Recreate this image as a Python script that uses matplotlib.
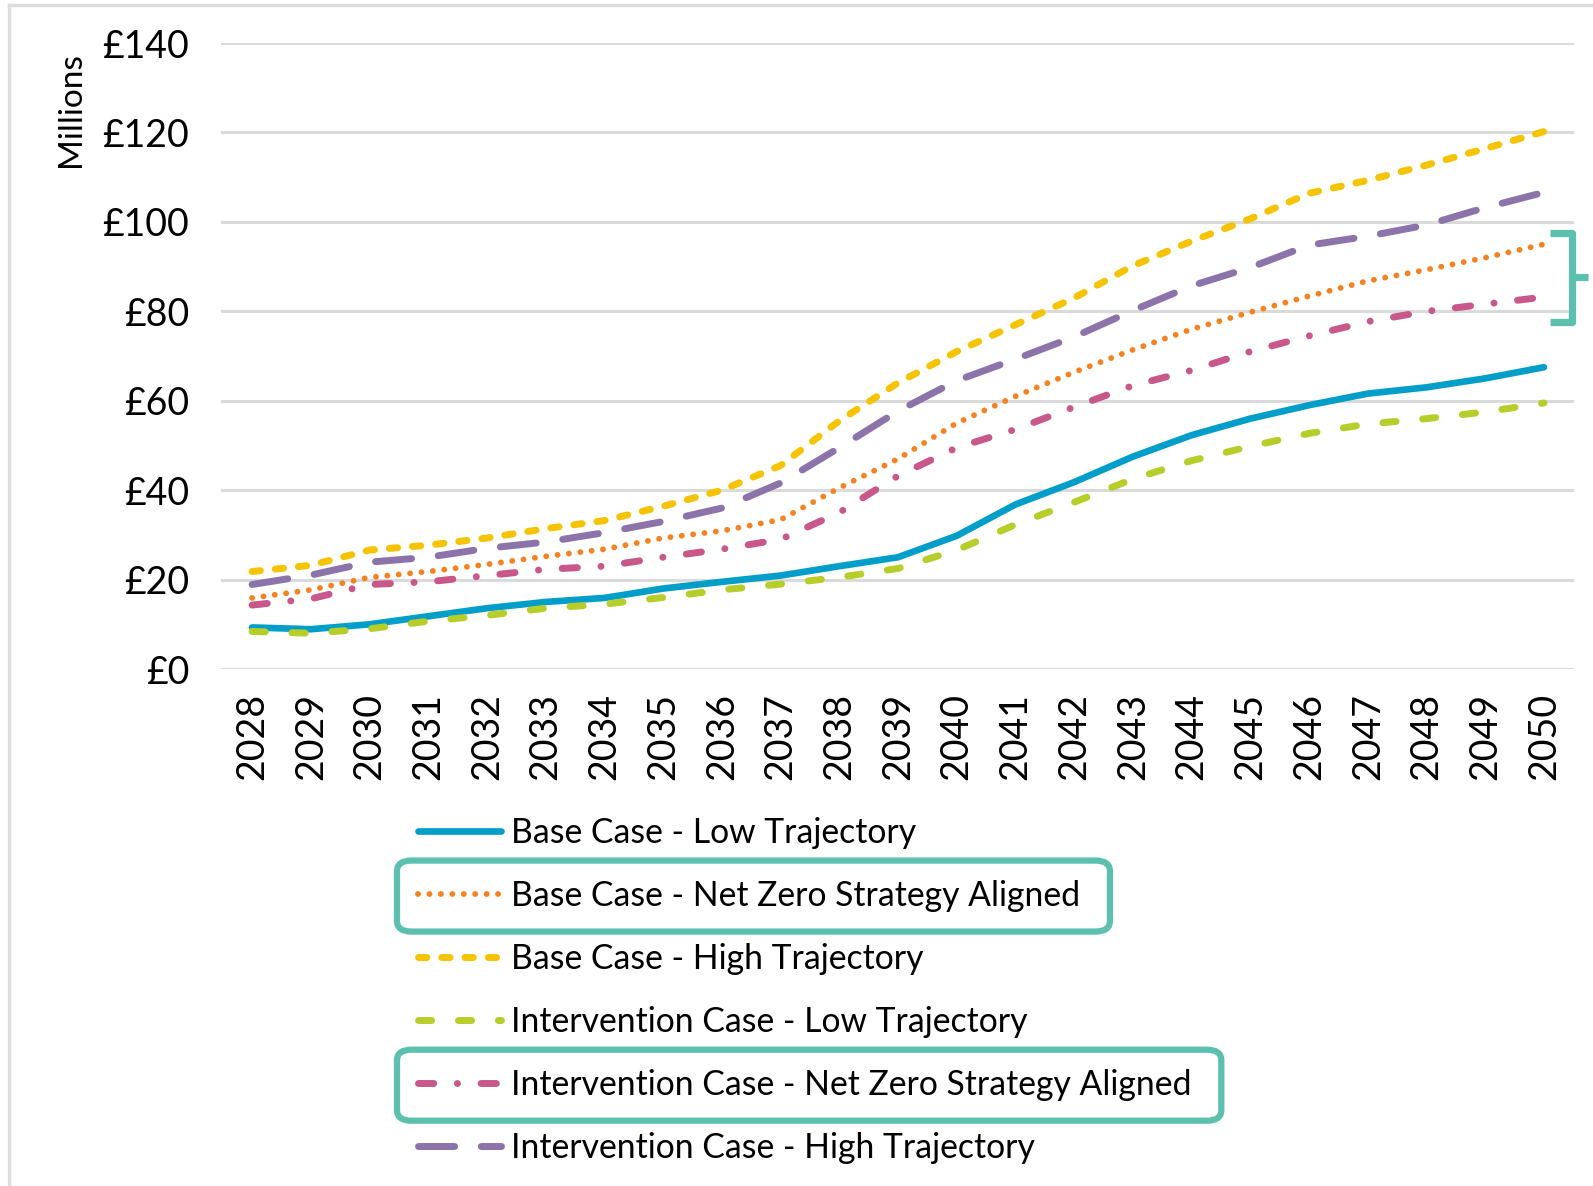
import matplotlib

matplotlib.use("Agg")
import matplotlib.pyplot as plt
import matplotlib.transforms as mtransforms
from matplotlib.lines import Line2D
from matplotlib.patches import FancyBboxPatch
from matplotlib.ticker import FuncFormatter

YEARS = list(range(2028, 2051))

base_low = [9.3, 8.9, 10.0, 11.8, 13.6, 15.0, 15.9, 18.0, 19.5, 20.9, 23.0, 25.0,
            29.8, 36.8, 41.8, 47.5, 52.3, 56.0, 59.0, 61.6, 63.0, 65.0, 67.5]
base_nz = [15.9, 17.7, 20.5, 21.8, 23.4, 25.2, 26.8, 29.3, 30.9, 33.4, 40.5, 47.0,
           55.0, 61.0, 66.4, 71.4, 76.0, 79.8, 83.4, 86.8, 89.3, 92.0, 95.0]
base_high = [21.8, 23.2, 26.6, 27.7, 29.3, 31.4, 33.2, 36.4, 40.0, 45.5, 55.5, 64.0,
             71.0, 77.0, 83.0, 90.2, 95.7, 100.7, 106.4, 109.3, 112.7, 116.4, 120.2]
int_low = [8.4, 8.0, 9.0, 10.7, 12.0, 13.6, 14.5, 16.0, 17.7, 19.0, 20.5, 22.5,
           26.6, 32.3, 37.3, 42.5, 46.6, 49.8, 52.7, 54.8, 56.0, 57.5, 59.5]
int_nz = [14.3, 15.7, 18.9, 19.5, 20.9, 22.3, 23.0, 25.0, 26.8, 29.0, 35.0, 43.2,
          49.5, 53.6, 58.6, 63.4, 66.8, 71.0, 74.5, 77.7, 80.0, 81.6, 83.2]
int_high = [18.9, 21.0, 23.9, 25.0, 27.0, 28.4, 30.5, 33.0, 36.0, 41.6, 49.5, 57.7,
            64.5, 69.3, 74.3, 80.2, 85.7, 89.8, 94.8, 96.8, 99.3, 103.2, 106.6]

LABELS = [
    "Base Case - Low Trajectory",
    "Base Case - Net Zero Strategy Aligned",
    "Base Case - High Trajectory",
    "Intervention Case - Low Trajectory",
    "Intervention Case - Net Zero Strategy Aligned",
    "Intervention Case - High Trajectory",
]
Y_TICKS = [0, 20, 40, 60, 80, 100, 120, 140]
HIGHLIGHT = [1, 4]

TEAL = "#5CC0AE"
GRID = "#DADADA"

styles = [
    dict(color="#009EC8", lw=4.8, ls="-"),
    dict(color="#F5821F", lw=4.2, ls=(0, (0.01, 1.95))),
    dict(color="#F6C300", lw=5.0, ls=(0, (1.2, 2.15))),
    dict(color="#B6CD2A", lw=5.0, ls=(0, (1.9, 3.85))),
    dict(color="#C8578A", lw=5.0, ls=(0, (2.2, 3.4, 0.01, 3.4))),
    dict(color="#8C74AA", lw=5.0, ls=(0, (5.2, 3.85))),
]
series = [base_low, base_nz, base_high, int_low, int_nz, int_high]

FONT = ["Lato", "DejaVu Sans"]

fig = plt.figure(figsize=(15.93, 11.86), dpi=100)
ax = fig.add_axes([0.1387, 0.4359, 0.8493, 0.5278])

for ys, st, lab in zip(series, styles, LABELS):
    ax.plot(YEARS, ys, color=st["color"], lw=st["lw"], linestyle=st["ls"],
            dash_capstyle="round", solid_capstyle="round", label=lab)

ax.set_xlim(2027.47, 2050.51)
ax.set_ylim(0, 140)
ax.set_yticks(Y_TICKS)
ax.set_xticks(YEARS)
ax.yaxis.set_major_formatter(FuncFormatter(lambda v, p: f"£{v:.0f}"))
ax.grid(axis="y", color=GRID, lw=2.2)
ax.set_axisbelow(True)
for s in ax.spines.values():
    s.set_visible(False)
ax.tick_params(axis="both", length=0)
ax.tick_params(axis="y", pad=23)
ax.tick_params(axis="x", pad=17)
for t in ax.get_yticklabels():
    t.set_family(FONT)
    t.set_fontsize(27)
for t in ax.get_xticklabels():
    t.set_family(FONT)
    t.set_fontsize(27)
    t.set_rotation(90)

ax.text(-0.111, 0.893, "Millions", rotation=90, ha="center", va="center",
        transform=ax.transAxes, fontsize=24, family=FONT)

# bracket next to the net zero lines
bt = mtransforms.blended_transform_factory(ax.transAxes, ax.transData)
ax.plot([0.982, 0.9985, 0.9985, 0.982], [97.5, 97.5, 77.6, 77.6], color=TEAL,
        lw=5.2, transform=bt, clip_on=False, solid_joinstyle="round",
        solid_capstyle="butt")
ax.plot([0.9985, 1.0105], [87.6, 87.6], color=TEAL, lw=5.2, transform=bt,
        clip_on=False, solid_capstyle="butt")

leg = fig.legend(loc="upper left", bbox_to_anchor=(418 / 1593, 1 - 817 / 1186),
                 frameon=False, handlelength=2.45, handletextpad=0.3,
                 labelspacing=0.92, borderpad=0, borderaxespad=0,
                 prop={"family": FONT, "size": 24.3})

# outer border
fig.add_artist(Line2D([9 / 1593, 1.0], [1 - 5 / 1186] * 2, color="#DDDDDD", lw=2.5))
fig.add_artist(Line2D([9 / 1593] * 2, [0, 1 - 5 / 1186], color="#DDDDDD", lw=2.5))

# rounded boxes around the net zero entries
fig.canvas.draw()
r = fig.canvas.get_renderer()
for i in HIGHLIGHT:
    tb = leg.get_texts()[i].get_window_extent(r)
    hb = leg.legend_handles[i].get_window_extent(r)
    x0 = hb.x0 - 21
    x1 = tb.x1 + 30
    yc = (tb.y0 + tb.y1) / 2
    h = 71
    box = FancyBboxPatch((x0 / 1593, (yc - h / 2) / 1186), (x1 - x0) / 1593, h / 1186,
                         boxstyle="round,pad=0,rounding_size=0.009",
                         transform=fig.transFigure, fill=False, ec=TEAL, lw=4.5)
    fig.add_artist(box)

fig.savefig("out.png", dpi=100, facecolor="white")
